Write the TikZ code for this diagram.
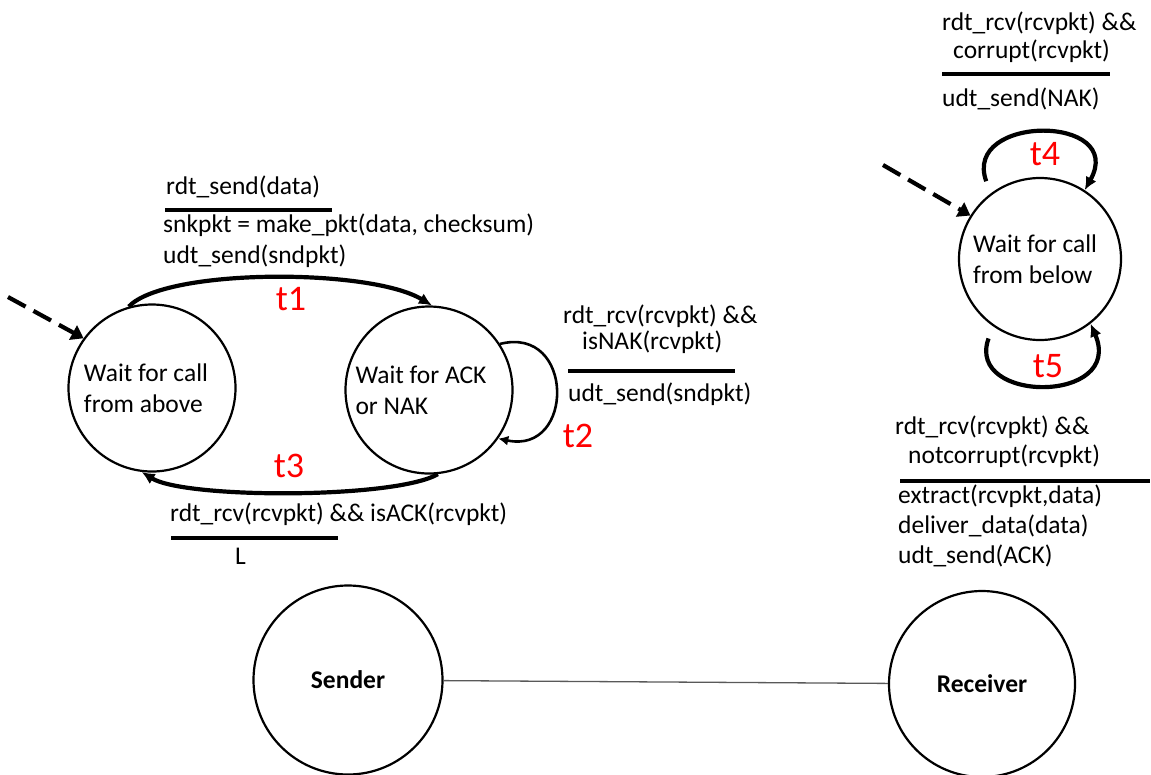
\documentclass[tikz,border=0pt]{standalone}
\usepackage{fontspec}
\setmainfont{Carlito}
\usetikzlibrary{arrows.meta,shapes.geometric}
\begin{document}
\begin{tikzpicture}[x=1pt,y=-1pt,
  lbl/.style={inner sep=0pt, anchor=base west, font=\fontsize{25.5}{31}\selectfont},
  tlab/.style={inner sep=0pt, anchor=base, text=red, font=\fontsize{36}{40}\selectfont},
  state/.style={draw, circle, line width=2.2pt, inner sep=0pt, align=left, font=\fontsize{25.5}{31}\selectfont},
  ent/.style={draw, circle, line width=2.2pt, inner sep=0pt, font=\bfseries\fontsize{25.5}{30}\selectfont},
  trans/.style={line width=4.2pt, -{Latex[length=13pt,width=12pt]}},
  thintrans/.style={line width=2.6pt, -{Latex[length=10pt,width=10pt]}},
  init/.style={line width=4.2pt, dash pattern=on 20pt off 9pt, -{Triangle[length=12pt,width=16pt]}},
  bar/.style={line width=4.5pt},
]
\useasboundingbox (0,0) rectangle (1151,774);

% states
\node[state, minimum size=167pt] (L) at (152,388) {Wait for call\hspace*{12pt}\\from above};
\node[state, minimum size=167pt] (R) at (429,390) {Wait for ACK\hspace*{16pt}\\or NAK};
\node[state, minimum size=162pt] (W) at (1040,259) {Wait for call\hspace*{10pt}\\from below};
\node[ent, minimum size=189pt] (S) at (348,680) {Sender};
\node[ent, minimum size=186pt] (Rc) at (982,684) {Receiver};

% initial arrows
\coordinate (iL) at (8,297);
\coordinate (iW) at (883,165);
\draw[init] (iL) -- (L.144);
\draw[init] (iW) -- (W.148);

% transitions
\draw[trans] (L.106) .. controls (165,268) and (370,268) .. (R.88);
\draw[trans] (R.-84) .. controls (395,499) and (185,499) .. (L.-97);
\draw[thintrans] (R.33) .. controls (575,325) and (575,455) .. (R.-35);
\draw[trans, shorten <=13pt] (W.127) .. controls (962,114) and (1127,114) .. (W.57);
\draw[trans, shorten <=13pt] (W.235) .. controls (965,404) and (1125,404) .. (W.-52);
\draw[gray!70!black, line width=1.3pt] (S) -- (Rc);

% transition names
\node[tlab] (t1) at (291,310) {t1};
\node[tlab] (t3) at (289,477) {t3};
\node[tlab] (t2) at (578,447) {t2};
\node[tlab] (t4) at (1045,165) {t4};
\node[tlab] (t5) at (1048,377) {t5};

% t1 label
\node[lbl] (a1) at (166,194) {rdt\_send(data)};
\draw[bar] (165,210) -- (332,210);
\node[lbl] (a2) at (163,232) {snkpkt = make\_pkt(data, checksum)};
\node[lbl] (a3) at (163,263) {udt\_send(sndpkt)};

% t2 label
\node[lbl] (b1) at (563,323) {rdt\_rcv(rcvpkt) \&\&};
\node[lbl] (b2) at (582,349) {isNAK(rcvpkt)};
\draw[bar] (568,371) -- (735,371);
\node[lbl] (b3) at (568,401) {udt\_send(sndpkt)};

% t3 label
\node[lbl] (c1) at (170,521) {rdt\_rcv(rcvpkt) \&\& isACK(rcvpkt)};
\draw[bar] (171,538) -- (338,538);
\node[lbl] (c2) at (235,564) {L};

% t4 label
\node[lbl] (d1) at (942,30) {rdt\_rcv(rcvpkt) \&\&};
\node[lbl] (d2) at (953,58) {corrupt(rcvpkt)};
\draw[bar] (942,74) -- (1110,74);
\node[lbl] (d3) at (942,106) {udt\_send(NAK)};

% t5 label
\node[lbl] (e1) at (895,434) {rdt\_rcv(rcvpkt) \&\&};
\node[lbl] (e2) at (908,463) {notcorrupt(rcvpkt)};
\draw[bar] (900,481) -- (1150,481);
\node[lbl] (e3) at (898,503) {extract(rcvpkt,data)};
\node[lbl] (e4) at (898,533) {deliver\_data(data)};
\node[lbl] (e5) at (898,563) {udt\_send(ACK)};
\end{tikzpicture}
\end{document}
